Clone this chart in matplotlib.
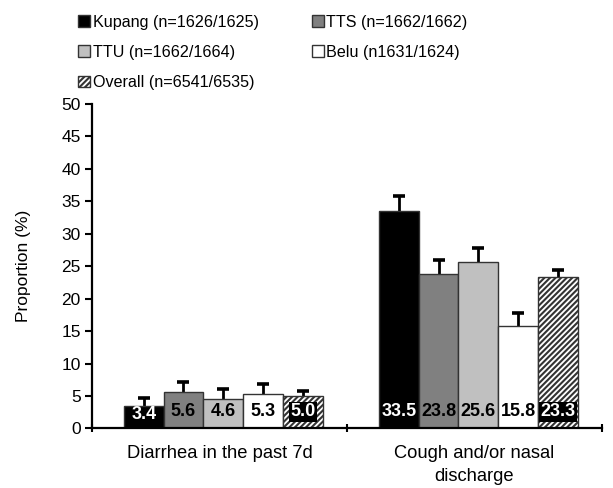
import matplotlib
matplotlib.use("Agg")
import matplotlib.pyplot as plt
from matplotlib.patches import Patch
import numpy as np

plt.rcParams['font.family'] = ['Liberation Sans', 'DejaVu Sans']
plt.rcParams['hatch.color'] = '#7f7f7f'
plt.rcParams['hatch.linewidth'] = 1.5

categories = ["Diarrhea in the past 7d", "Cough and/or nasal\ndischarge"]
series = ["Kupang (n=1626/1625)", "TTS (n=1662/1662)", "TTU (n=1662/1664)",
          "Belu (n1631/1624)", "Overall (n=6541/6535)"]
values = {
    "Kupang": [3.4, 33.5],
    "TTS": [5.6, 23.8],
    "TTU": [4.6, 25.6],
    "Belu": [5.3, 15.8],
    "Overall": [5.0, 23.3],
}
errors = {
    "Kupang": [1.25, 2.3],
    "TTS": [1.5, 2.2],
    "TTU": [1.5, 2.25],
    "Belu": [1.55, 2.05],
    "Overall": [0.8, 1.15],
}
keys = ["Kupang", "TTS", "TTU", "Belu", "Overall"]
faces = ["#000000", "#808080", "#c0c0c0", "#ffffff", "#ffffff"]
hatches = [None, None, None, None, "//////"]
text_colors = ["white", "black", "black", "black", "white"]
text_boxes = [False, False, False, False, True]

fig = plt.figure(figsize=(6.13, 4.88), dpi=100)
ax = fig.add_axes([0.150, 0.122, 0.832, 0.665])

width = 0.156
centers = np.arange(len(categories)) + 0.515
handles = []
for i, k in enumerate(keys):
    x = centers + (i - 2) * width
    vals = np.array(values[k])
    errs = np.array(errors[k])
    ax.bar(x, vals, width, color=faces[i], edgecolor="#333333",
           linewidth=1.0, hatch=hatches[i], zorder=2)
    # symmetric bars drawn behind the filled bars so only the upper half shows
    ax.errorbar(x, vals, yerr=errs, fmt="none", ecolor="black",
                elinewidth=2.0, capsize=4, capthick=2.6, zorder=1)
    for xi, v in zip(x, vals):
        kw = dict(ha="center", va="center", fontsize=13, fontweight="bold",
                  color=text_colors[i], zorder=4)
        if text_boxes[i]:
            kw["bbox"] = dict(boxstyle="square,pad=0.08", fc="black", ec="none")
        ax.text(xi, min(2.6, v - 1.2), f"{v:.1f}", **kw)
    handles.append(Patch(facecolor=faces[i], edgecolor="#333333",
                         hatch=hatches[i], linewidth=1.0, label=series[i]))

ax.set_xlim(0, 2)
ax.set_ylim(0, 50)
ax.set_yticks(np.arange(0, 51, 5))
ax.set_xticks([0, 1, 2])
ax.set_xticklabels([])
ax.set_xticks(centers - 0.015, minor=True)
ax.set_xticklabels(categories, minor=True, fontsize=13.2, linespacing=1.45)
ax.tick_params(axis="x", which="minor", length=0, pad=12)
ax.tick_params(axis="x", which="major", length=6, width=1.5, direction="inout")
ax.tick_params(axis="y", length=5, width=1.5, direction="out", labelsize=12.5, pad=3)
for s in ["top", "right"]:
    ax.spines[s].set_visible(False)
for s in ["left", "bottom"]:
    ax.spines[s].set_linewidth(1.6)
ax.set_ylabel("Proportion (%)", fontsize=12.5, labelpad=22)

order = [0, 2, 4, 1, 3]
fig.legend([handles[j] for j in order], [series[j] for j in order], ncol=2,
           loc="upper left", bbox_to_anchor=(0.104, 1.0), frameon=False,
           fontsize=11.6, handlelength=0.75, handleheight=0.75, handletextpad=0.15,
           labelspacing=0.95, columnspacing=3.3, borderpad=0.4)

fig.savefig("out.png", dpi=100)
